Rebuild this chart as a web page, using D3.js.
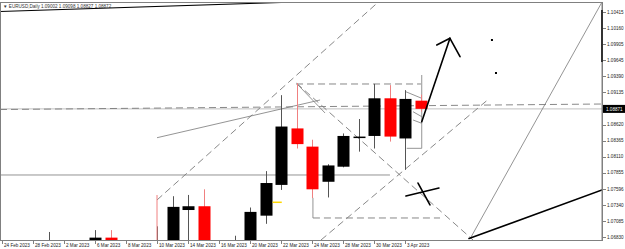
<!DOCTYPE html>
<html><head><meta charset="utf-8">
<script src="https://cdn.jsdelivr.net/npm/d3@7"></script>
<style>body{margin:0;background:#fff}svg{display:block}text{font-family:"Liberation Sans",Arial,sans-serif}</style>
</head><body><svg id="c" width="625" height="249"></svg>
<script>
// ---- data ----
const dates = ["24 Feb 2023","27 Feb 2023","28 Feb 2023","1 Mar 2023","2 Mar 2023","3 Mar 2023","6 Mar 2023","7 Mar 2023","8 Mar 2023","9 Mar 2023","10 Mar 2023","13 Mar 2023","14 Mar 2023","15 Mar 2023","16 Mar 2023","17 Mar 2023","20 Mar 2023","21 Mar 2023","22 Mar 2023","23 Mar 2023","24 Mar 2023","27 Mar 2023","28 Mar 2023","29 Mar 2023","30 Mar 2023","31 Mar 2023","3 Apr 2023","4 Apr 2023"];
const opens  = [null,null,null,1.0577,null,null,1.0635,1.0682,null,null,1.0581,1.0640,1.0726,1.0732,null,1.0610,1.0672,1.0717,1.0766,1.0856,1.0827,1.0771,1.0795,1.0842,1.0844,1.0904,1.0840,1.09002];
const highs  = [null,null,null,1.0691,null,null,1.0694,1.0694,null,null,1.0700,1.0748,1.0750,1.0759,null,1.0685,1.0730,1.0788,1.0909,1.0928,1.0838,1.0799,1.0848,1.0871,1.0927,1.0925,1.0917,1.09098];
const lows   = [null,null,null,1.0576,null,null,1.0633,1.0546,null,null,1.0516,1.0630,1.0672,1.0516,null,1.0610,1.0655,1.0704,1.0758,1.0824,1.0745,1.0746,1.0794,1.0819,1.0824,1.0835,1.0790,1.08827];
const closes = [null,null,null,1.0667,null,null,1.0682,1.0550,null,null,1.0640,1.0731,1.0732,1.0577,null,1.0667,1.0723,1.0769,1.0859,1.0831,1.0759,1.0797,1.0844,1.0843,1.0904,1.0843,1.0903,1.08872];
const dateTicks = ["24 Feb 2023","28 Feb 2023","2 Mar 2023","6 Mar 2023","8 Mar 2023","10 Mar 2023","14 Mar 2023","16 Mar 2023","20 Mar 2023","22 Mar 2023","24 Mar 2023","28 Mar 2023","30 Mar 2023","3 Apr 2023"];
const priceTicks = [1.10415,1.10160,1.09905,1.09645,1.09390,1.09135,1.08620,1.08365,1.08110,1.07855,1.07596,1.07340,1.07085,1.06830];
const bidPrice = 1.08871;
const titleText = "EURUSD,Daily  1.09002 1.09098 1.08827 1.08872";
// drawn analysis objects: [barIndex1, price1, barIndex2, price2]
const thinSolidLines = [
  [-0.13,1.07818,25.03,1.07818],
  [10,1.08412,20.52,1.09013],
  [30.19,1.06798,38.71,1.10574],
  [19.10,1.09252,20.84,1.08806],
  [27.08,1.09411,27.08,1.08243],
  [26.11,1.08243,27.08,1.08243],
  [26.05,1.09145,27.08,1.09040],
  [26.52,1.08826,27.08,1.08747],
  [26.52,1.08694,27.08,1.08642],
  [20.06,1.07454,20.06,1.07133]
];
const dashedLines = [
  [-0.13,1.08861,38.71,1.08949],
  [10,1.07420,24.4,1.1060],
  [18.97,1.09268,27.03,1.09268],
  [19.01,1.09279,30.39,1.06782],
  [20.58,1.06782,31.35,1.09018],
  [20.06,1.07133,28.26,1.07133]
];
const boldLines = [
  [27.08,1.08667,28.90,1.09996],
  [28.05,1.09889,28.90,1.09996],
  [28.90,1.09996,29.55,1.09703],
  [26.06,1.07483,28.19,1.07611],
  [26.84,1.07690,27.61,1.07340],
  [30.13,1.06806,38.71,1.07579]
];
const topLine = [-0.13,1.10423,19.03,1.10574];
const dotMarks = [[31.61,1.09969],[31.87,1.09443]];
const redLine = [10,1.07499,10,1.0670];
const yellowLine = [17.46,1.07383,18.05,1.07383];
const axisMark = [38.71,1.10447,38.71,1.09618];

// ---- scales ----
const W=625,H=249, L=0, R=602, T=2, B=240;
const x = d3.scaleLinear().domain([0,27]).range([2,420.5]);
const y = d3.scaleLinear().domain([1.06830,1.10415]).range([237,12]);
const svg = d3.select("#c");
svg.append("defs").append("clipPath").attr("id","pc").append("rect").attr("x",L).attr("y",T).attr("width",R-L).attr("height",B-T);
const plot = svg.append("g").attr("clip-path","url(#pc)");

// frame
svg.append("rect").attr("x",0.5).attr("y",T+0.5).attr("width",R-0.5).attr("height",B-T).attr("fill","none").attr("stroke","#808080");

function seg(g,d){return g.append("line").attr("x1",x(d[0])).attr("y1",y(d[1])).attr("x2",x(d[2])).attr("y2",y(d[3]));}

// bid line
plot.append("line").attr("x1",L).attr("x2",R).attr("y1",y(bidPrice)).attr("y2",y(bidPrice)).attr("stroke","#c0c0c0");

thinSolidLines.forEach(d=>seg(plot,d).attr("stroke","#888").attr("stroke-width",0.9));
dashedLines.forEach(d=>seg(plot,d).attr("stroke","#7a7a7a").attr("stroke-width",0.9).attr("stroke-dasharray","7,4"));

// candles
const bars = dates.map((d,i)=>({i,o:opens[i],h:highs[i],l:lows[i],c:closes[i]})).filter(b=>b.o!=null);
const cg = plot.append("g");
bars.forEach(b=>{
  const up = b.c>=b.o, cx = Math.round(x(b.i))+0.5;
  cg.append("line").attr("x1",cx).attr("x2",cx).attr("y1",y(b.h)).attr("y2",y(b.l))
    .attr("stroke",up?"#555":"#f08080").attr("stroke-width",1);
  const top=y(Math.max(b.o,b.c)), bot=y(Math.min(b.o,b.c));
  cg.append("rect").attr("x",cx-6).attr("width",12).attr("y",top).attr("height",Math.max(1.5,bot-top))
    .attr("fill",up?"#000":"#ff0000");
});

seg(plot,redLine).attr("stroke","#f08080").attr("stroke-width",1);
seg(plot,yellowLine).attr("stroke","#ffd700").attr("stroke-width",1.5);
seg(plot,topLine).attr("stroke","#000").attr("stroke-width",1.2);
boldLines.forEach(d=>seg(plot,d).attr("stroke","#000").attr("stroke-width",1.6).attr("stroke-linecap","round"));
dotMarks.forEach(d=>plot.append("rect").attr("x",x(d[0])-1).attr("y",y(d[1])-1).attr("width",2).attr("height",2).attr("fill","#000"));

// title
svg.append("text").attr("x",3).attr("y",8).attr("font-size",4.6).attr("fill","#333").text("\u25BC "+titleText);

// right axis
svg.append("line").attr("x1",R+0.5).attr("x2",R+0.5).attr("y1",T).attr("y2",B).attr("stroke","#808080");
seg(svg,axisMark).attr("stroke","#333").attr("stroke-width",2);
const ya = svg.append("g");
priceTicks.forEach(p=>{
  ya.append("line").attr("x1",R+1).attr("x2",R+4).attr("y1",Math.round(y(p))+0.5).attr("y2",Math.round(y(p))+0.5).attr("stroke","#808080");
  ya.append("text").attr("x",R+5).attr("y",y(p)+1.7).attr("font-size",4.6).attr("fill","#222").text(p.toFixed(5));
});
ya.append("rect").attr("x",R+1).attr("y",y(bidPrice)-4).attr("width",22).attr("height",8).attr("fill","#000");
ya.append("text").attr("x",R+4).attr("y",y(bidPrice)+1.7).attr("font-size",4.6).attr("fill","#fff").text(bidPrice.toFixed(5));

// bottom axis
svg.append("line").attr("x1",0).attr("x2",R+1).attr("y1",B+0.5).attr("y2",B+0.5).attr("stroke","#808080");
const xa = svg.append("g");
dateTicks.forEach(t=>{
  const xi = Math.round(x(dates.indexOf(t)))+0.5;
  xa.append("line").attr("x1",xi).attr("x2",xi).attr("y1",B).attr("y2",B+4).attr("stroke","#808080");
  xa.append("text").attr("x",xi+1.5).attr("y",B+7).attr("font-size",4.6).attr("fill","#222").text(t);
});
</script></body></html>
